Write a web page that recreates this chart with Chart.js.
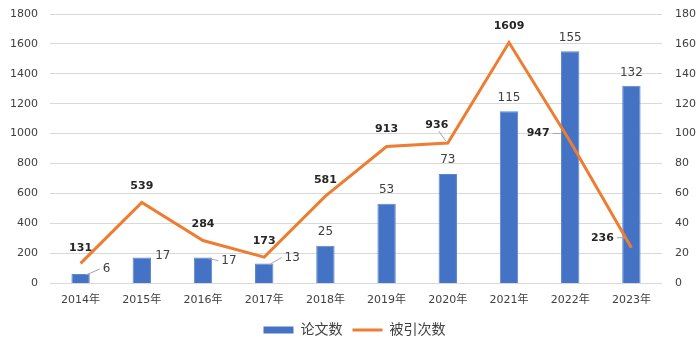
<!DOCTYPE html>
<html>
<head>
<meta charset="utf-8">
<script src="https://cdn.jsdelivr.net/npm/chart.js@4/dist/chart.umd.min.js"></script>
<style>
  html, body { margin: 0; padding: 0; background: #fff; }
  #wrap { width: 700px; height: 351px; }
</style>
</head>
<body>
<div id="wrap"><canvas id="myChart" width="700" height="351"></canvas></div>
<script>
// data
var years = ['2014年', '2015年', '2016年', '2017年', '2018年', '2019年', '2020年', '2021年', '2022年', '2023年'];
var papers = [6, 17, 17, 13, 25, 53, 73, 115, 155, 132];          // 论文数 (right axis)
var citations = [131, 539, 284, 173, 581, 913, 936, 1609, 947, 236]; // 被引次数 (left axis)

var FONT = "'DejaVu Sans', 'Noto Sans CJK SC', sans-serif";

// label offsets from each mark, [dx, dy, leader line?]
var lineLabelPos = [[0,-15,0],[0,-16,0],[0,-16,0],[0,-16,0],[0,-16,0],[0,-17,0],[-11,-18,1],[0,-16,0],[-32,-8,1],[-29,-10,1]];
var barLabelPos = [[26,-5,1],[21,-2,0],[26,3,1],[28,-6,1],[0,-14,0],[0,-14,0],[0,-14,0],[0,-13,0],[0,-13,0],[0,-13,0]];

var valueLabels = {
  id: 'valueLabels',
  afterDatasetsDraw: function(chart) {
    var c = chart.ctx;
    c.save();
    c.textAlign = 'center';
    c.textBaseline = 'middle';
    chart.data.datasets.forEach(function(ds, di) {
      var meta = chart.getDatasetMeta(di);
      var isLine = ds.type === 'line';
      var pos = isLine ? lineLabelPos : barLabelPos;
      c.font = isLine ? 'bold 11px ' + FONT : '12px ' + FONT;
      c.fillStyle = isLine ? '#262626' : '#404040';
      meta.data.forEach(function(el, i) {
        var p = pos[i];
        var tx = el.x + p[0], ty = el.y + p[1];
        var txt = String(ds.data[i]);
        if (p[2]) {
          var w = c.measureText(txt).width;
          c.strokeStyle = '#a6a6a6';
          c.lineWidth = 1;
          c.beginPath();
          if (isLine) {
            if (p[0] < -20) {
              c.moveTo(tx + w / 2 + 3, ty);
              c.lineTo(tx + w / 2 + 11, ty);
            } else {
              c.moveTo(tx + 2, ty + 6);
              c.lineTo(el.x - 2, el.y - 2);
            }
          } else {
            var hw = el.width / 2;
            c.moveTo(el.x + hw - 4, el.y + 1);
            c.lineTo(tx - w / 2 - 3, ty);
          }
          c.stroke();
        }
        c.fillText(txt, tx, ty);
      });
    });
    c.restore();
  }
};

// fixed axis sizes so the plot area lands where the original has it
function fitY(width) {
  return function(s) { s.width = width; s.paddingTop = 0; s.paddingBottom = 0; };
}

var ctx = document.getElementById('myChart').getContext('2d');
var chart = new Chart(ctx, {
  data: {
    labels: years,
    datasets: [{
      type: 'line',
      label: '被引次数',
      data: citations,
      yAxisID: 'y',
      borderColor: '#ED7D31',
      backgroundColor: '#ED7D31',
      borderWidth: 3,
      pointRadius: 0,
      tension: 0,
      order: 0
    }, {
      type: 'bar',
      label: '论文数',
      data: papers,
      yAxisID: 'y1',
      backgroundColor: '#4472C4',
      borderColor: '#5B86D0',
      borderWidth: 1,
      barPercentage: 0.6,
      categoryPercentage: 0.5,
      order: 1
    }]
  },
  options: {
    responsive: false,
    animation: false,
    layout: { padding: { left: 9, right: 0, top: 14, bottom: 4 } },
    scales: {
      x: {
        afterFit: function(s) { s.height = 30; s.paddingLeft = 0; s.paddingRight = 0; },
        grid: { display: false, drawTicks: false },
        border: { display: false },
        ticks: { color: '#404040', font: { family: FONT, size: 11 }, padding: 11, maxRotation: 0 }
      },
      y: {
        position: 'left',
        min: 0, max: 1800,
        afterFit: fitY(41),
        ticks: { stepSize: 200, color: '#404040', font: { family: FONT, size: 11 }, padding: 12,
                 callback: function(v) { return String(v); } },
        grid: { color: '#d9d9d9', drawTicks: false },
        border: { display: false }
      },
      y1: {
        position: 'right',
        min: 0, max: 180,
        afterFit: fitY(38),
        ticks: { stepSize: 20, color: '#404040', font: { family: FONT, size: 11 }, padding: 13,
                 callback: function(v) { return String(v); } },
        grid: { display: false, drawTicks: false },
        border: { display: false }
      }
    },
    plugins: {
      legend: {
        position: 'bottom',
        reverse: true,
        labels: {
          usePointStyle: true,
          pointStyleWidth: 30,
          boxHeight: 7,
          color: '#404040',
          font: { family: FONT, size: 14 },
          padding: 10,
          generateLabels: function(chart) {
            return chart.data.datasets.map(function(ds, i) {
              return {
                text: ds.label,
                fillStyle: ds.type === 'line' ? ds.borderColor : ds.backgroundColor,
                strokeStyle: ds.type === 'line' ? ds.borderColor : ds.backgroundColor,
                lineWidth: ds.type === 'line' ? 3 : 0,
                pointStyle: ds.type === 'line' ? 'line' : 'rect',
                fontColor: '#404040',
                datasetIndex: i
              };
            });
          }
        }
      },
      tooltip: { enabled: false }
    }
  },
  plugins: [valueLabels]
});
</script>
</body>
</html>
